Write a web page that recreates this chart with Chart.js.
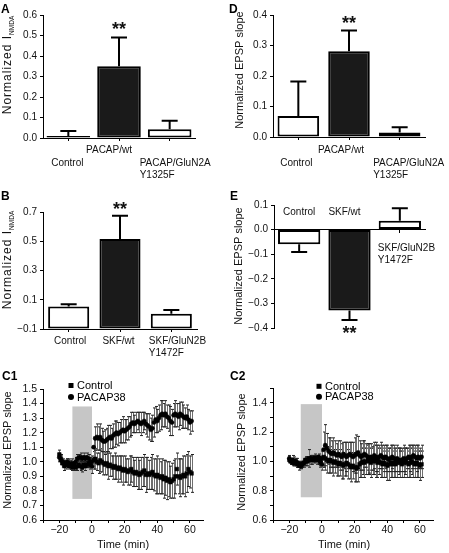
<!DOCTYPE html>
<html>
<head>
<meta charset="UTF-8" />
<title>NMDA / EPSP figure</title>
<script src="https://cdn.jsdelivr.net/npm/chart.js"></script>
<style>
  body { margin: 0; background: #fff; }
  #fig { position: relative; width: 449px; height: 553px; overflow: hidden; }
  #fig canvas { position: absolute; }
</style>
</head>
<body>
<div id="fig">
  <canvas id="pA" width="225" height="180" style="left:0;top:0"></canvas>
  <canvas id="pD" width="224" height="180" style="left:225px;top:0"></canvas>
  <canvas id="pB" width="225" height="180" style="left:0;top:180px"></canvas>
  <canvas id="pE" width="224" height="180" style="left:225px;top:180px"></canvas>
  <canvas id="pC1" width="225" height="193" style="left:0;top:360px"></canvas>
  <canvas id="pC2" width="224" height="193" style="left:225px;top:360px"></canvas>
</div>
<script>
// ---------- bar panels ----------
const catsA = [['Control'], ['PACAP/wt'], ['PACAP/GluN2A', 'Y1325F']];
const meanA = [0.010, 0.350, 0.043];
const semA  = [0.024, 0.140, 0.041];
const sigA  = ['', '**', ''];

const catsD = [['Control'], ['PACAP/wt'], ['PACAP/GluN2A', 'Y1325F']];
const meanD = [0.069, 0.281, 0.015];
const semD  = [0.113, 0.068, 0.017];
const sigD  = ['', '**', ''];

const catsB = [['Control'], ['SKF/wt'], ['SKF/GluN2B', 'Y1472F']];
const meanB = [0.053, 0.515, 0.004];
const semB  = [0.016, 0.160, 0.026];
const sigB  = ['', '**', ''];

const catsE = [['Control'], ['SKF/wt'], ['SKF/GluN2B', 'Y1472F']];
const meanE = [-0.060, -0.329, 0.036];
const semE  = [0.031, 0.038, 0.051];
const sigE  = ['', '**', ''];

// ---------- time courses (min) ----------
const timeC = [-20, -19, -18, -17, -16, -15, -14, -13, -12, -11,
  -10, -9, -8, -7, -6, -5, -4, -3, -2, -1,
  0, 1, 2, 3, 4, 5, 6, 7, 8, 9,
  10, 11, 12, 13, 14, 15, 16, 17, 18, 19,
  20, 21, 22, 23, 24, 25, 26, 27, 28, 29,
  30, 31, 32, 33, 34, 35, 36, 37, 38, 39,
  40, 41, 42, 43, 44, 45, 46, 47, 48, 49,
  50, 51, 52, 53, 54, 55, 56, 57, 58, 59,
  60, 61];

const c1Pacap = [1.03, 1.01, 1.00, 0.99, 0.98, 1.00, 0.99, 0.98, 0.99, 0.98,
  1.00, 1.02, 1.03, 1.03, 1.02, 1.03, 1.02, 1.03, 1.02, 1.00,
  0.97, 1.10, 1.16, 1.17, 1.16, 1.17, 1.15, 1.14, 1.14, 1.15,
  1.16, 1.17, 1.16, 1.18, 1.19, 1.20, 1.19, 1.20, 1.21, 1.22,
  1.21, 1.22, 1.23, 1.24, 1.26, 1.27, 1.26, 1.27, 1.28, 1.27,
  1.26, 1.27, 1.28, 1.26, 1.25, 1.24, 1.22, 1.23, 1.27, 1.29,
  1.28, 1.30, 1.32, 1.33, 1.32, 1.33, 1.31, 1.30, 1.28, 1.27,
  1.32, 1.33, 1.32, 1.31, 1.33, 1.32, 1.31, 1.30, 1.31, 1.29,
  1.27, 1.28];
const c1PacapErr = [0.03, 0.03, 0.02, 0.02, 0.03, 0.02, 0.03, 0.02, 0.03, 0.02,
  0.03, 0.03, 0.02, 0.03, 0.02, 0.03, 0.02, 0.03, 0.03, 0.03,
  0.05, 0.07, 0.08, 0.09, 0.08, 0.09, 0.08, 0.07, 0.08, 0.08,
  0.09, 0.08, 0.07, 0.08, 0.09, 0.08, 0.08, 0.07, 0.08, 0.09,
  0.08, 0.07, 0.08, 0.07, 0.08, 0.07, 0.06, 0.07, 0.06, 0.07,
  0.08, 0.07, 0.06, 0.07, 0.08, 0.09, 0.08, 0.09, 0.10, 0.09,
  0.08, 0.09, 0.10, 0.09, 0.08, 0.09, 0.08, 0.09, 0.10, 0.09,
  0.08, 0.09, 0.08, 0.09, 0.08, 0.09, 0.08, 0.07, 0.08, 0.07,
  0.08, 0.07];
const c1Ctrl = [1.05, 1.02, 0.99, 0.97, 0.98, 0.99, 0.97, 0.98, 0.96, 0.97,
  0.96, 0.97, 0.98, 0.97, 0.96, 0.98, 0.97, 0.98, 0.99, 0.98,
  1.00, 1.01, 1.02, 1.00, 0.99, 1.01, 1.00, 0.99, 0.98, 0.99,
  0.97, 0.98, 0.97, 0.96, 0.97, 0.96, 0.95, 0.96, 0.95, 0.94,
  0.95, 0.94, 0.93, 0.94, 0.95, 0.93, 0.92, 0.93, 0.92, 0.91,
  0.92, 0.93, 0.94, 0.91, 0.92, 0.91, 0.92, 0.93, 0.91, 0.90,
  0.91, 0.90, 0.89, 0.90, 0.88, 0.89, 0.87, 0.88, 0.86, 0.87,
  0.88, 0.90, 0.95, 0.90, 0.89, 0.90, 0.91, 0.90, 0.92, 0.95,
  0.93, 0.92];
const c1CtrlErr = [0.03, 0.03, 0.02, 0.03, 0.02, 0.03, 0.02, 0.03, 0.02, 0.03,
  0.02, 0.03, 0.02, 0.03, 0.03, 0.02, 0.03, 0.02, 0.03, 0.03,
  0.04, 0.06, 0.07, 0.06, 0.07, 0.08, 0.07, 0.08, 0.07, 0.08,
  0.09, 0.08, 0.07, 0.08, 0.09, 0.08, 0.09, 0.08, 0.09, 0.10,
  0.09, 0.08, 0.09, 0.10, 0.09, 0.10, 0.09, 0.10, 0.11, 0.10,
  0.11, 0.10, 0.11, 0.12, 0.11, 0.10, 0.11, 0.12, 0.11, 0.12,
  0.13, 0.12, 0.11, 0.12, 0.13, 0.12, 0.13, 0.12, 0.11, 0.12,
  0.13, 0.12, 0.11, 0.12, 0.13, 0.12, 0.13, 0.14, 0.13, 0.12,
  0.11, 0.13];

const c2Pacap = [1.02, 1.00, 1.01, 0.99, 1.00, 0.99, 0.98, 0.97, 0.98, 0.99,
  1.01, 1.00, 1.01, 1.02, 1.01, 1.02, 1.02, 1.01, 1.03, 1.00,
  0.98, 1.08, 1.11, 1.09, 1.07, 1.06, 1.05, 1.06, 1.05, 1.04,
  1.05, 1.04, 1.03, 1.05, 1.04, 1.03, 1.04, 1.05, 1.04, 1.03,
  1.04, 1.05, 1.06, 1.04, 1.03, 1.04, 1.05, 1.04, 1.03, 1.02,
  1.03, 1.02, 1.04, 1.03, 1.02, 1.03, 1.04, 1.03, 1.02, 1.03,
  1.02, 1.01, 1.02, 1.03, 1.02, 1.01, 1.02, 1.01, 1.00, 1.01,
  1.02, 1.01, 1.02, 1.03, 1.02, 1.03, 1.04, 1.03, 1.02, 1.03,
  1.02, 1.03];
const c2PacapErr = [0.02, 0.02, 0.03, 0.02, 0.02, 0.03, 0.02, 0.02, 0.02, 0.03,
  0.02, 0.03, 0.02, 0.02, 0.03, 0.02, 0.02, 0.03, 0.02, 0.03,
  0.04, 0.12, 0.14, 0.10, 0.09, 0.10, 0.09, 0.10, 0.09, 0.08,
  0.09, 0.10, 0.09, 0.08, 0.09, 0.10, 0.09, 0.08, 0.09, 0.10,
  0.12, 0.13, 0.11, 0.10, 0.09, 0.10, 0.09, 0.08, 0.09, 0.10,
  0.09, 0.08, 0.09, 0.10, 0.09, 0.08, 0.09, 0.08, 0.09, 0.08,
  0.09, 0.08, 0.09, 0.08, 0.09, 0.08, 0.09, 0.08, 0.07, 0.08,
  0.09, 0.08, 0.07, 0.08, 0.09, 0.08, 0.07, 0.08, 0.09, 0.08,
  0.07, 0.08];
const c2Ctrl = [1.01, 1.00, 0.99, 1.00, 0.99, 0.98, 0.97, 0.97, 0.98, 0.99,
  1.00, 1.01, 1.02, 1.01, 1.02, 1.01, 1.02, 1.02, 1.01, 0.99,
  1.02, 1.03, 1.02, 1.01, 1.00, 1.01, 1.00, 0.99, 1.00, 0.99,
  0.98, 0.99, 0.98, 0.97, 0.98, 0.99, 0.98, 0.97, 0.96, 0.97,
  0.96, 0.95, 0.96, 0.98, 0.99, 1.00, 0.99, 1.00, 1.01, 1.00,
  0.99, 1.00, 1.01, 1.00, 0.99, 1.00, 0.99, 0.98, 0.99, 0.98,
  0.97, 0.98, 0.99, 0.98, 0.99, 0.98, 0.99, 1.00, 0.99, 0.98,
  0.99, 1.00, 0.99, 0.98, 0.99, 1.00, 0.99, 0.98, 0.99, 0.98,
  0.97, 0.98];
const c2CtrlErr = [0.02, 0.02, 0.02, 0.03, 0.02, 0.02, 0.03, 0.02, 0.02, 0.02,
  0.03, 0.02, 0.06, 0.03, 0.02, 0.02, 0.03, 0.02, 0.02, 0.03,
  0.05, 0.07, 0.08, 0.09, 0.08, 0.09, 0.08, 0.09, 0.08, 0.09,
  0.08, 0.09, 0.10, 0.09, 0.08, 0.09, 0.10, 0.09, 0.10, 0.09,
  0.10, 0.09, 0.10, 0.09, 0.10, 0.09, 0.10, 0.09, 0.10, 0.09,
  0.10, 0.09, 0.10, 0.11, 0.10, 0.09, 0.10, 0.09, 0.10, 0.09,
  0.10, 0.11, 0.10, 0.09, 0.10, 0.09, 0.10, 0.09, 0.10, 0.09,
  0.10, 0.09, 0.10, 0.09, 0.10, 0.09, 0.10, 0.09, 0.10, 0.09,
  0.10, 0.09];

// drug application window (min) and its vertical extent
const shadeC1 = { x: [-12, 0], y: [0.745, 1.38] };
const shadeC2 = { x: [-13, 0], y: [0.755, 1.39] };

const FONT = '"Liberation Sans", Arial, Helvetica, sans-serif';
Chart.defaults.font.family = FONT;
Chart.defaults.color = '#111';

const extras = {};   // per-canvas annotation settings

function fmtTick(v) {
  const s = Math.abs(v) < 1e-9 ? '0.0' : v.toFixed(1);
  return s.replace('-', '\u2212');
}

function drawVTitle(ctx, cx, cy, parts) {
  ctx.save();
  ctx.translate(cx, cy);
  ctx.rotate(-Math.PI / 2);
  ctx.fillStyle = '#111';
  ctx.textBaseline = 'alphabetic';
  let total = 0;
  const ws = parts.map(p => {
    ctx.font = p.size + 'px ' + FONT;
    ctx.letterSpacing = (p.ls || 0) + 'px';
    const w = ctx.measureText(p.text).width;
    total += w;
    return w;
  });
  let x = -total / 2;
  parts.forEach((p, i) => {
    ctx.font = p.size + 'px ' + FONT;
    ctx.letterSpacing = (p.ls || 0) + 'px';
    ctx.fillText(p.text, x, p.dy);
    x += ws[i];
  });
  ctx.restore();
}

const figPlugin = {
  id: 'fig',
  beforeDatasetsDraw(chart) {
    const e = extras[chart.canvas.id];
    const ctx = chart.ctx, xs = chart.scales.x, ys = chart.scales.y;
    if (e.shade) {
      const x0 = xs.getPixelForValue(e.shade.x[0]), x1 = xs.getPixelForValue(e.shade.x[1]);
      const y0 = ys.getPixelForValue(e.shade.y[1]), y1 = ys.getPixelForValue(e.shade.y[0]);
      ctx.save();
      ctx.fillStyle = '#c6c6c6';
      ctx.fillRect(x0, y0, x1 - x0, y1 - y0);
      ctx.restore();
    }
    if (e.pointErr) {
      ctx.save();
      ctx.lineWidth = 1;
      chart.data.datasets.forEach((ds, di) => {
        const err = e.pointErr[di];
        ds.data.forEach((pt, i) => {
          const x = Math.round(xs.getPixelForValue(pt.x)) + 0.5;
          const yh = ys.getPixelForValue(pt.y + err[i]);
          const yl = ys.getPixelForValue(pt.y - err[i]);
          ctx.strokeStyle = '#6e6e6e';
          ctx.beginPath(); ctx.moveTo(x, yh); ctx.lineTo(x, yl); ctx.stroke();
          ctx.strokeStyle = '#222';
          ctx.beginPath();
          ctx.moveTo(x - 1.5, yh); ctx.lineTo(x + 1.5, yh);
          ctx.moveTo(x - 1.5, yl); ctx.lineTo(x + 1.5, yl);
          ctx.stroke();
        });
      });
      ctx.restore();
    }
  },
  afterDatasetsDraw(chart) {
    const e = extras[chart.canvas.id];
    if (!e.barErr) return;
    const ctx = chart.ctx, ys = chart.scales.y;
    const meta = chart.getDatasetMeta(0);
    const vals = chart.data.datasets[0].data;
    ctx.save();
    vals.forEach((v, i) => {
      const dir = v >= 0 ? 1 : -1;
      const x = meta.data[i].x;
      const y0 = ys.getPixelForValue(v);
      const y1 = ys.getPixelForValue(v + dir * e.barErr[i]);
      ctx.strokeStyle = '#000';
      ctx.lineWidth = 2;
      ctx.beginPath();
      ctx.moveTo(x, y0); ctx.lineTo(x, y1);
      ctx.moveTo(x - 8, y1); ctx.lineTo(x + 8, y1);
      ctx.stroke();
      if (e.sig[i]) {
        ctx.fillStyle = '#111';
        ctx.font = 'bold 18px ' + FONT;
        ctx.textAlign = 'center';
        ctx.textBaseline = 'alphabetic';
        const cy = dir > 0 ? y1 - e.starGap : y1 + e.starGap;
        ctx.fillText(e.sig[i], x, cy + 10);
      }
    });
    ctx.restore();
  },
  afterDraw(chart) {
    const e = extras[chart.canvas.id];
    const ctx = chart.ctx;
    ctx.save();
    // panel letter
    ctx.fillStyle = '#000';
    ctx.font = 'bold 12px ' + FONT;
    ctx.textAlign = 'left';
    ctx.textBaseline = 'alphabetic';
    ctx.fillText(e.letter[0], e.letter[1], e.letter[2]);
    // y title
    drawVTitle(ctx, e.yTitle.cx, e.yTitle.cy, e.yTitle.parts);
    // x title
    if (e.xTitle) {
      ctx.font = '11px ' + FONT;
      ctx.fillStyle = '#111';
      ctx.textAlign = 'center';
      ctx.textBaseline = 'middle';
      ctx.fillText(e.xTitle.text, e.xTitle.cx, e.xTitle.cy);
    }
    // category labels
    if (e.cats) {
      const meta = chart.getDatasetMeta(0);
      ctx.font = '10px ' + FONT;
      ctx.fillStyle = '#111';
      ctx.textBaseline = 'middle';
      e.cats.forEach((lines, i) => {
        const lay = e.catLayout[i];
        const x = meta.data[i].x + lay.dx;
        ctx.textAlign = lay.align;
        lines.forEach((t, k) => ctx.fillText(t, x, lay.y + k * 12.5));
      });
    }
    // legend
    if (e.legend) {
      ctx.font = '11px ' + FONT;
      ctx.fillStyle = '#000';
      ctx.textAlign = 'left';
      ctx.textBaseline = 'middle';
      e.legend.items.forEach((it, k) => {
        const y = e.legend.y + k * e.legend.step;
        const mx = e.legend.x;
        if (it.style === 'rect') {
          ctx.fillRect(mx - 2.5, y - 2.5, 5, 5);
        } else {
          ctx.beginPath(); ctx.arc(mx, y, 3, 0, Math.PI * 2); ctx.fill();
        }
        ctx.fillText(it.text, mx + 6, y + 0.5);
      });
    }
    ctx.restore();
  }
};

function makeBar(id, o) {
  const cv = document.getElementById(id);
  const W = cv.width, H = cv.height;
  extras[id] = o.extra;
  const ds = {
    data: o.mean,
    backgroundColor: o.fills,
    borderColor: '#000',
    borderWidth: 2,
    borderSkipped: false,
    barPercentage: o.barPct,
    categoryPercentage: 1
  };
  if (o.base !== undefined) ds.base = o.base;
  new Chart(cv, {
    type: 'bar',
    data: { labels: o.cats.map(c => c.join(' ')), datasets: [ds] },
    options: {
      responsive: false,
      animation: false,
      devicePixelRatio: 1,
      events: [],
      layout: { padding: { left: 0, top: o.area.top, right: W - o.area.right, bottom: o.xAtZero ? H - o.area.bottom : 0 } },
      plugins: { legend: { display: false }, tooltip: { enabled: false } },
      scales: {
        x: {
          position: o.xAtZero ? { y: 0 } : 'bottom',
          offset: true,
          grid: { drawOnChartArea: false, drawTicks: true, tickLength: 3, offset: false, tickColor: '#000' },
          border: { display: true, color: '#000', width: 1 },
          ticks: { display: false },
          afterFit: s => { s.height = H - o.area.bottom; }
        },
        y: {
          min: o.yMin, max: o.yMax,
          grid: { drawOnChartArea: false, drawTicks: true, tickLength: 3, tickColor: '#000' },
          border: { display: true, color: '#000', width: 1 },
          ticks: { stepSize: 0.1, padding: 3, color: '#111', font: { size: 10 }, callback: fmtTick },
          afterFit: s => { s.width = o.area.left; }
        }
      }
    },
    plugins: [figPlugin]
  });
}

function makeTime(id, o) {
  const cv = document.getElementById(id);
  const W = cv.width, H = cv.height;
  extras[id] = o.extra;
  new Chart(cv, {
    type: 'scatter',
    data: {
      datasets: [
        { label: 'Control', data: timeC.map((t, i) => ({ x: t, y: o.ctrl[i] })),
          pointStyle: 'rect', pointRadius: 2.6, backgroundColor: '#000', borderColor: '#000', borderWidth: 0.5 },
        { label: 'PACAP38', data: timeC.map((t, i) => ({ x: t, y: o.pacap[i] })),
          pointStyle: 'circle', pointRadius: 2.1, backgroundColor: '#000', borderColor: '#000', borderWidth: 0.5 }
      ]
    },
    options: {
      responsive: false,
      animation: false,
      devicePixelRatio: 1,
      events: [],
      layout: { padding: { left: 0, top: o.area.top, right: W - o.area.right, bottom: 0 } },
      plugins: { legend: { display: false }, tooltip: { enabled: false } },
      scales: {
        x: {
          type: 'linear', min: o.xMin, max: o.xMax,
          grid: { drawOnChartArea: false, drawTicks: true, tickLength: 3, tickColor: '#000' },
          border: { display: true, color: '#000', width: 1 },
          ticks: {
            stepSize: 10, includeBounds: false, autoSkip: false, maxRotation: 0, padding: 1,
            color: '#111', font: { size: 10.5 },
            callback: v => (v % 20 === 0 ? String(v).replace('-', '\u2212') : '')
          },
          afterFit: s => { s.height = H - o.area.bottom; }
        },
        y: {
          min: 0.6, max: 1.5,
          grid: { drawOnChartArea: false, drawTicks: true, tickLength: 3, tickColor: '#000' },
          border: { display: true, color: '#000', width: 1 },
          ticks: { stepSize: 0.1, padding: 3, autoSkip: false, color: '#111', font: { size: 10.5 }, callback: o.yLabel },
          afterFit: s => { s.width = o.area.left; }
        }
      }
    },
    plugins: [figPlugin]
  });
}

const titleI = cy => ({ cx: 7, cy: cy, parts: [
  { text: 'Normalized I', size: 12, ls: 1, dy: 4.3 },
  { text: 'NMDA', size: 6.5, ls: 0, dy: 6.5 }
] });
const titleEPSP = (cx, cy) => ({ cx: cx, cy: cy, parts: [{ text: 'Normalized EPSP slope', size: 11, dy: 4 }] });

makeBar('pA', {
  cats: catsA, mean: meanA, fills: ['#fff', '#1a1a1a', '#fff'], barPct: 0.86,
  yMin: 0, yMax: 0.6, area: { left: 43, top: 15, right: 195, bottom: 138 },
  extra: {
    letter: ['A', 1, 13], yTitle: titleI(65), barErr: semA, sig: sigA, starGap: 13, cats: catsA,
    catLayout: [{ dx: -1, y: 163, align: 'center' }, { dx: -10, y: 150, align: 'center' }, { dx: -30, y: 163, align: 'left' }]
  }
});

makeBar('pD', {
  cats: catsD, mean: meanD, fills: ['#fff', '#1a1a1a', '#fff'], barPct: 0.82,
  yMin: 0, yMax: 0.4, area: { left: 48, top: 15, right: 200, bottom: 137 },
  extra: {
    letter: ['D', 4, 13], yTitle: titleEPSP(14, 70), barErr: semD, sig: sigD, starGap: 12, cats: catsD,
    catLayout: [{ dx: -2, y: 163, align: 'center' }, { dx: -8, y: 150, align: 'center' }, { dx: -26.5, y: 163, align: 'left' }]
  }
});

makeBar('pB', {
  cats: catsB, mean: meanB, base: -0.1, fills: ['#fff', '#1a1a1a', '#fff'], barPct: 0.8,
  yMin: -0.1, yMax: 0.7, area: { left: 43, top: 32, right: 197, bottom: 149 },
  extra: {
    letter: ['B', 1, 19.5], yTitle: titleI(80), barErr: semB, sig: sigB, starGap: 11, cats: catsB,
    catLayout: [{ dx: 1.5, y: 161, align: 'center' }, { dx: -1.5, y: 161, align: 'center' }, { dx: -22.5, y: 161, align: 'left' }]
  }
});

makeBar('pE', {
  cats: catsE, mean: meanE, fills: ['#fff', '#1a1a1a', '#fff'], barPct: 0.84, xAtZero: true,
  yMin: -0.4, yMax: 0.1, area: { left: 49, top: 25, right: 200, bottom: 148 },
  extra: {
    letter: ['E', 5, 20], yTitle: titleEPSP(12.5, 86), barErr: semE, sig: sigE, starGap: 9, cats: catsE,
    catLayout: [{ dx: 0, y: 32, align: 'center' }, { dx: -5, y: 32, align: 'center' }, { dx: -22, y: 68, align: 'left' }]
  }
});

const legendItems = [{ text: 'Control', style: 'rect' }, { text: 'PACAP38', style: 'circle' }];

makeTime('pC1', {
  ctrl: c1Ctrl, pacap: c1Pacap, xMin: -30, xMax: 68,
  area: { left: 43, top: 29, right: 203, bottom: 160 },
  yLabel: v => v.toFixed(1),
  extra: {
    letter: ['C1', 2, 20], yTitle: titleEPSP(7, 90), xTitle: { text: 'Time (min)', cx: 123, cy: 185 },
    shade: shadeC1, pointErr: [c1CtrlErr, c1PacapErr],
    legend: { x: 71, y: 25.5, step: 11.5, items: legendItems }
  }
});

makeTime('pC2', {
  ctrl: c2Ctrl, pacap: c2Pacap, xMin: -30, xMax: 68,
  area: { left: 48, top: 28, right: 208, bottom: 160 },
  yLabel: v => (Math.round(v * 10) % 2 === 0 && v < 1.45 ? v.toFixed(1) : ''),
  extra: {
    letter: ['C2', 5, 19.5], yTitle: titleEPSP(16, 92), xTitle: { text: 'Time (min)', cx: 119, cy: 185 },
    shade: shadeC2, pointErr: [c2CtrlErr, c2PacapErr],
    legend: { x: 94, y: 26.3, step: 10.5, items: legendItems }
  }
});
</script>
</body>
</html>
